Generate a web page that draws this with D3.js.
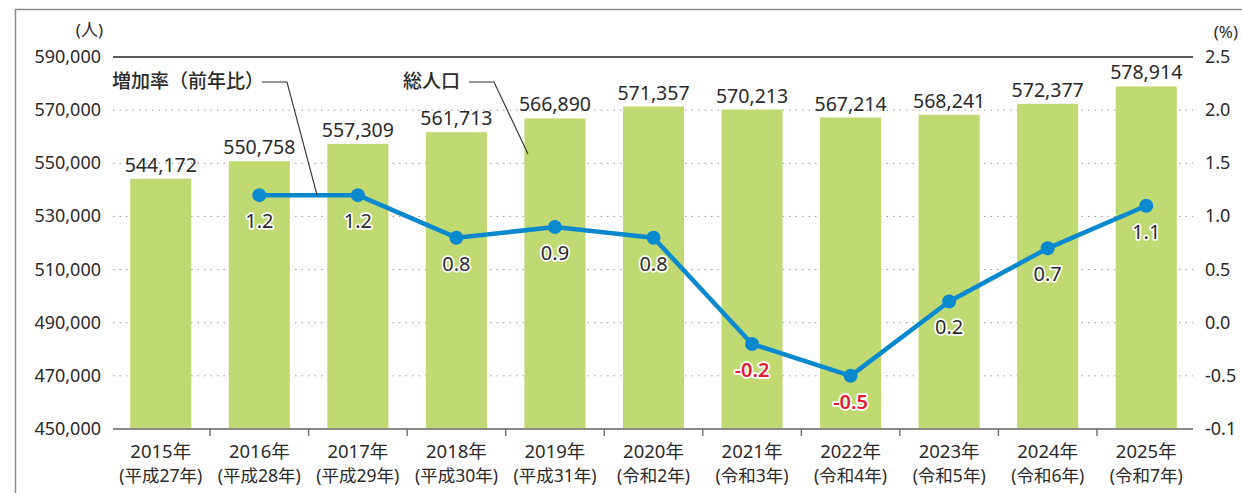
<!DOCTYPE html>
<html lang="ja">
<head>
<meta charset="utf-8">
<script src="https://cdn.jsdelivr.net/npm/d3@7"></script>
<style>
  html, body { margin: 0; padding: 0; background: #fff; }
  svg { display: block; font-family: "Noto Sans", "Noto Sans CJK JP", sans-serif; }
</style>
</head>
<body>
<svg id="chart" width="1242" height="493"></svg>
<script>
// Population and year-over-year growth rate, 2015–2025
const years = ["2015年","2016年","2017年","2018年","2019年","2020年","2021年","2022年","2023年","2024年","2025年"];
const eraLabels = ["(平成27年)","(平成28年)","(平成29年)","(平成30年)","(平成31年)","(令和2年)","(令和3年)","(令和4年)","(令和5年)","(令和6年)","(令和7年)"];
const population = [544172, 550758, 557309, 561713, 566890, 571357, 570213, 567214, 568241, 572377, 578914];
const growthYears = ["2016年","2017年","2018年","2019年","2020年","2021年","2022年","2023年","2024年","2025年"];
const growthRate = [1.2, 1.2, 0.8, 0.9, 0.8, -0.2, -0.5, 0.2, 0.7, 1.1];
const leftTicks = [590000, 570000, 550000, 530000, 510000, 490000, 470000, 450000];
const rightTicks = [2.5, 2.0, 1.5, 1.0, 0.5, 0.0, -0.5, -1.0];
const rightTickLabels = ["2.5","2.0","1.5","1.0","0.5","0.0","-0.5","-0.1"];

const svg = d3.select("#chart");
const plot = { left: 111.5, right: 1195.5, top: 57, bottom: 429 };

const x = d3.scaleBand().domain(years).range([plot.left, plot.right]).padding(0);
const barW = x.step() * 0.62;
const yL = d3.scaleLinear().domain([450000, 590000]).range([plot.bottom, plot.top]);
const yR = d3.scaleLinear().domain([-1.0, 2.5]).range([plot.bottom, plot.top]);

const lineX0 = 113, lineX1 = 1193;
const textColor = "#2b2b2b";

// outer frame
svg.append("path")
  .attr("d", "M15.5,493 V9.5 H1242")
  .attr("fill", "none").attr("stroke", "#8a8a8a").attr("stroke-width", 1.5);

// dotted gridlines
svg.append("g").selectAll("line")
  .data(leftTicks.filter(v => v !== 590000 && v !== 450000))
  .join("line")
  .attr("x1", lineX0).attr("x2", lineX1)
  .attr("y1", d => yL(d)).attr("y2", d => yL(d))
  .attr("stroke", "#9a9a9a").attr("stroke-width", 1)
  .attr("stroke-dasharray", "1.5,5");

// top rule
svg.append("line")
  .attr("x1", lineX0).attr("x2", lineX1)
  .attr("y1", yL(590000)).attr("y2", yL(590000))
  .attr("stroke", "#222").attr("stroke-width", 1.3);

// bars
svg.append("g").selectAll("rect")
  .data(population)
  .join("rect")
  .attr("x", (d, i) => x(years[i]) + (x.step() - barW) / 2)
  .attr("y", d => yL(d))
  .attr("width", barW)
  .attr("height", d => yL(450000) - yL(d))
  .attr("fill", "#c1d972");

// bar value labels
svg.append("g").selectAll("text")
  .data(population)
  .join("text")
  .attr("x", (d, i) => x(years[i]) + x.step() / 2)
  .attr("y", d => yL(d) - 7)
  .attr("text-anchor", "middle")
  .attr("font-size", 19.5)
  .attr("fill", textColor)
  .text(d => d3.format(",")(d));

// bottom axis
const xAxis = svg.append("g");
xAxis.append("line")
  .attr("x1", lineX0).attr("x2", lineX1)
  .attr("y1", plot.bottom).attr("y2", plot.bottom)
  .attr("stroke", "#8a8a8a").attr("stroke-width", 2);
xAxis.selectAll("line.tick")
  .data(years.slice(1))
  .join("line").attr("class", "tick")
  .attr("x1", d => x(d)).attr("x2", d => x(d))
  .attr("y1", plot.bottom).attr("y2", plot.bottom + 7)
  .attr("stroke", "#666").attr("stroke-width", 1.3);
xAxis.selectAll("text.year")
  .data(years)
  .join("text").attr("class", "year")
  .attr("x", d => x(d) + x.step() / 2)
  .attr("y", 458)
  .attr("text-anchor", "middle")
  .attr("font-size", 18.5)
  .attr("fill", textColor)
  .text(d => d);
xAxis.selectAll("text.era")
  .data(eraLabels)
  .join("text").attr("class", "era")
  .attr("x", (d, i) => x(years[i]) + x.step() / 2)
  .attr("y", 482)
  .attr("text-anchor", "middle")
  .attr("font-size", 17.5)
  .attr("fill", textColor)
  .text(d => d);

// left axis labels
svg.append("g").selectAll("text")
  .data(leftTicks)
  .join("text")
  .attr("x", 101)
  .attr("y", d => yL(d) + 6)
  .attr("text-anchor", "end")
  .attr("font-size", 18)
  .attr("fill", textColor)
  .text(d => d3.format(",")(d));
svg.append("text")
  .attr("x", 103).attr("y", 36)
  .attr("text-anchor", "end")
  .attr("font-size", 17)
  .attr("fill", textColor)
  .text("(人)");

// right axis labels
svg.append("g").selectAll("text")
  .data(rightTicks)
  .join("text")
  .attr("x", 1205)
  .attr("y", (d, i) => yR(d) + 6)
  .attr("text-anchor", "start")
  .attr("font-size", 18)
  .attr("fill", textColor)
  .text((d, i) => rightTickLabels[i]);
svg.append("text")
  .attr("x", 1238).attr("y", 38)
  .attr("text-anchor", "end")
  .attr("font-size", 17)
  .attr("fill", textColor)
  .text("(%)");

// growth rate line
const cx = i => x(growthYears[i]) + x.step() / 2;
const line = d3.line().x((d, i) => cx(i)).y(d => yR(d));
svg.append("path")
  .datum(growthRate)
  .attr("d", line)
  .attr("fill", "none")
  .attr("stroke", "#0a89cf")
  .attr("stroke-width", 4.5)
  .attr("stroke-linejoin", "round");
svg.append("g").selectAll("circle")
  .data(growthRate)
  .join("circle")
  .attr("cx", (d, i) => cx(i))
  .attr("cy", d => yR(d))
  .attr("r", 7)
  .attr("fill", "#0a89cf");
svg.append("g").selectAll("text")
  .data(growthRate)
  .join("text")
  .attr("x", (d, i) => cx(i))
  .attr("y", d => yR(d) + 33)
  .attr("text-anchor", "middle")
  .attr("font-size", 20)
  .attr("font-weight", d => d < 0 ? 600 : 400)
  .attr("fill", d => d < 0 ? "#e0202f" : textColor)
  .attr("stroke", "#fff")
  .attr("stroke-width", 3.5)
  .attr("stroke-linejoin", "round")
  .attr("paint-order", "stroke")
  .text(d => d.toFixed(1));

// series callouts with leader lines
const callouts = [
  { label: "増加率（前年比）", tx: 112, ty: 88, path: [[262, 82], [287, 82], [317, 195]] },
  { label: "総人口", tx: 403, ty: 88, path: [[469, 82], [494, 82], [528, 154]] }
];
callouts.forEach(c => {
  svg.append("text")
    .attr("x", c.tx).attr("y", c.ty)
    .attr("font-size", 19)
    .attr("font-family", "'Noto Sans CJK JP', sans-serif")
    .attr("font-weight", 500)
    .attr("fill", textColor)
    .text(c.label);
  svg.append("path")
    .attr("d", d3.line()(c.path))
    .attr("fill", "none")
    .attr("stroke", "#333")
    .attr("stroke-width", 1.1);
});
</script>
</body>
</html>
